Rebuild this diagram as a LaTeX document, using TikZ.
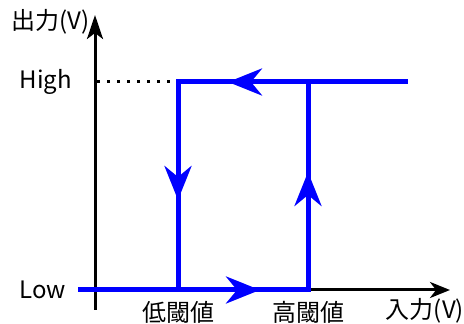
\documentclass[tikz,border=0pt]{standalone}
\usepackage{fontspec}
\setmainfont{Noto Sans CJK JP}
\usetikzlibrary{arrows.meta}

\tikzset{
  axis/.style={black,line width=3pt},
  loop/.style={blue,line width=5pt},
  looptip/.style={loop,-{Stealth[length=34pt,width=27pt,inset=11pt]}},
  lbl/.style={inner sep=0pt,font=\fontsize{24}{28}\selectfont}
}

\begin{document}
\begin{tikzpicture}[x=1pt,y=1pt]
\useasboundingbox (0,0) rectangle (464,324);

\coordinate (O) at (95,34);
\coordinate (Ybot) at (95,14);
\coordinate (Ytop) at (95,309);
\coordinate (Xend) at (450,34);
\coordinate (S) at (78,34);
\coordinate (LL) at (178,34);
\coordinate (LH) at (178,242);
\coordinate (RL) at (308,34);
\coordinate (RH) at (308,242);
\coordinate (E) at (408,242);
\coordinate (Hy) at (97,242);

% axes
\draw[axis,-{Stealth[length=24pt,width=16pt,inset=6pt]}] (Ybot)--(Ytop);
\draw[axis,-{Stealth[length=20pt,width=16pt,inset=6pt]}] (O)--(Xend);
\draw[black,line width=3pt,dash pattern=on 3pt off 7pt] (Hy)--(LH);

% hysteresis loop
\draw[loop] (S)--(RL)--(RH);
\draw[loop] (LL)--(LH)--(E);
\draw[looptip] (LL)--(260,34);
\draw[looptip] (RL)--(308,152);
\draw[looptip] (RH)--(228,242);
\draw[looptip] (LH)--(178,124);

\node[lbl] at (90,302) [anchor=east] {出力(V)};
\node[lbl] at (72,242) [anchor=east] {High};
\node[lbl] at (66,34) [anchor=east] {Low};
\node[lbl] at (178,12) {低閾値};
\node[lbl] at (308,12) {高閾値};
\node[lbl] at (425,13) {入力(V)};

\end{tikzpicture}
\end{document}
